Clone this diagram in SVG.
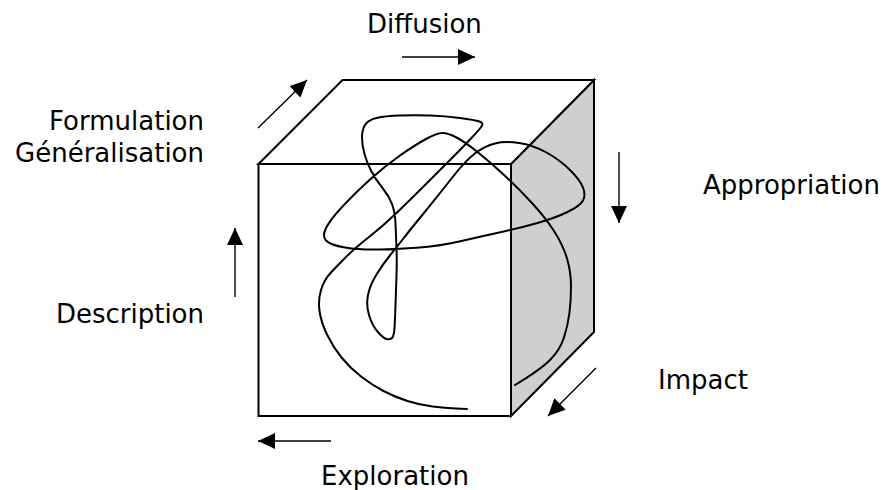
<svg xmlns="http://www.w3.org/2000/svg" width="887" height="490" viewBox="0 0 887 490">
<style>
.lbl{font-family:"DejaVu Sans","Verdana",sans-serif;font-size:26px;fill:#000}
.face{stroke:#000;stroke-width:2;stroke-linejoin:miter}
.arr{stroke:#000;stroke-width:1.4;fill:none;marker-end:url(#ah)}
.curve{fill:none;stroke:#000;stroke-width:2;stroke-linecap:round;stroke-linejoin:round}
</style>
<defs>
<marker id="ah" markerUnits="userSpaceOnUse" markerWidth="20" markerHeight="18" refX="17" refY="8" orient="auto">
<path d="M0,0 L17,8 L0,16 Z" fill="#000"/>
</marker>
</defs>
<rect width="887" height="490" fill="#fff"/>
<g id="cube">
<polygon class="face" points="511,164 594,80 594,332 511,416" fill="#cfcfcf"/>
<polygon class="face" points="258.5,164 342.5,80 594,80 511,164" fill="#fff"/>
<rect class="face" x="258.5" y="164" width="252.5" height="252" fill="#fff"/>
</g>
<g id="path-curve">
<path class="curve" d="M467,409 L456,408.5 Q445,408 432.5,406.5 Q420,405 407.5,401 Q395,397 383.5,391 Q372,385 361,376.5 Q350,368 341.5,357.5 Q333,347 327,334.5 Q321,322 319.5,311 Q318,300 321,290 Q324,280 330.5,273 Q337,266 346,257 Q355,248 369,237 Q383,226 396.5,213 Q410,200 423.5,186.5 Q437,173 450,160 Q463,147 471,138.5 Q479,130 481.5,126.5 Q484,123 479.5,121.5 Q475,120 460,118 Q445,116 430,115.5 Q415,115 400,115.5 Q385,116 376.5,118 Q368,120 365,125 Q362,130 362,137.5 Q362,145 364.5,154 Q367,163 371.5,171.5 Q376,180 382.5,188 Q389,196 392,204 Q395,212 395.5,223.5 Q396,235 396.5,247.5 Q397,260 396.5,275 Q396,290 395.5,305 Q395,320 394.5,328 Q394,336 392,338 Q390,340 386.5,339 Q383,338 377.5,331.5 Q372,325 369,315 Q366,305 368,295 Q370,285 376.5,274.5 Q383,264 389.5,256 Q396,248 403,239 Q410,230 423.5,213.5 Q437,197 451.5,178.5 Q466,160 475.5,153 Q485,146 495,143.5 Q505,141 519,143 Q533,145 546.5,152.5 Q560,160 570,170 Q580,180 583,187.5 Q586,195 583,200.5 Q580,206 567.5,212 Q555,218 537.5,223 Q520,228 501.5,232 Q483,236 461.5,241 Q440,246 420,247.5 Q400,249 380,249.5 Q360,250 345,247.5 Q330,245 326,240.5 Q322,236 326,228 Q330,220 342.5,206.5 Q355,193 370,179.5 Q385,166 400,155.5 Q415,145 426,139 Q437,133 442.5,133 Q448,133 456.5,137.5 Q465,142 477.5,152 Q490,162 503.5,174.5 Q517,187 531,202 Q545,217 554,231 Q563,245 567,258.5 Q571,272 571,286 Q571,300 569.5,312.5 Q568,325 564,337.5 Q560,350 550,360 Q540,370 515,385"/>
</g>
<g id="connectors">
<line class="arr" x1="402" y1="57" x2="475" y2="57"/>
<line class="arr" x1="258" y1="128" x2="307" y2="80"/>
<line class="arr" x1="619" y1="152" x2="619" y2="223"/>
<line class="arr" x1="596" y1="368" x2="548" y2="416"/>
<line class="arr" x1="331" y1="441" x2="258" y2="441"/>
<line class="arr" x1="235" y1="297" x2="235" y2="228"/>
</g>
<g id="label-diffusion"><text class="lbl" x="367" y="33">Diffusion</text></g>
<g id="label-formulation"><text class="lbl" x="204" y="130" text-anchor="end">Formulation</text><text class="lbl" x="204" y="162" text-anchor="end">Généralisation</text></g>
<g id="label-appropriation"><text class="lbl" x="703" y="194">Appropriation</text></g>
<g id="label-description"><text class="lbl" x="204" y="323" text-anchor="end">Description</text></g>
<g id="label-impact"><text class="lbl" x="658" y="389">Impact</text></g>
<g id="label-exploration"><text class="lbl" x="321" y="485">Exploration</text></g>
</svg>
